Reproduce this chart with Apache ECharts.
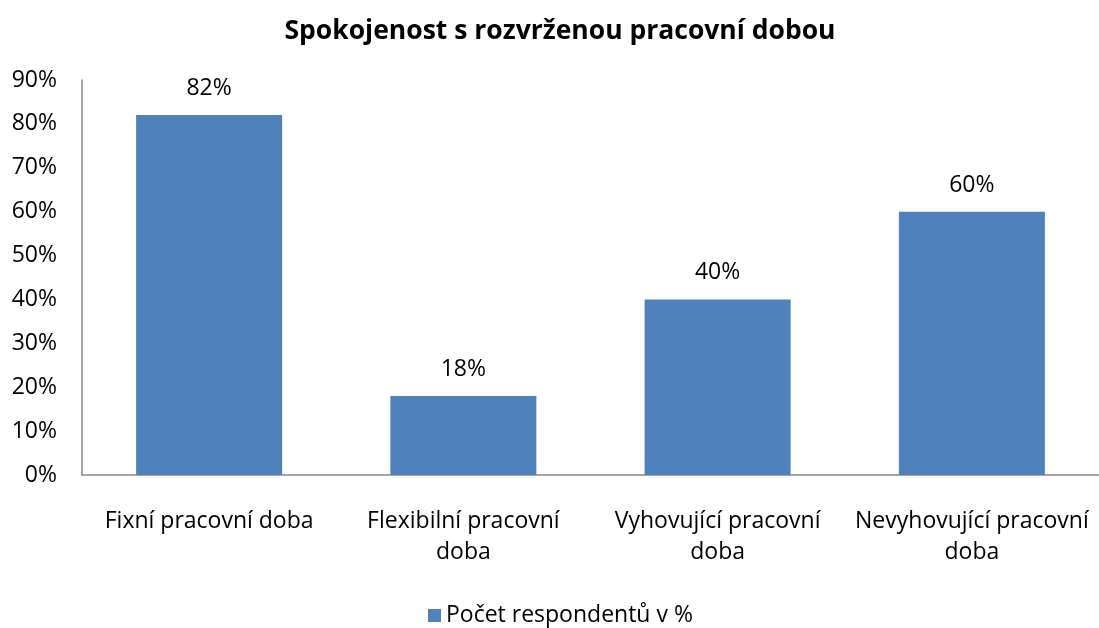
<!DOCTYPE html>
<html>
<head>
<meta charset="utf-8">
<script src="https://cdn.jsdelivr.net/npm/echarts@6/dist/echarts.min.js"></script>
<style>
  html, body { margin: 0; padding: 0; background: #fff; }
  #chart { width: 1099px; height: 628px; }
</style>
</head>
<body>
<div id="chart"></div>
<script>
// data
var categories = ['Fixní pracovní doba', 'Flexibilní pracovní\ndoba', 'Vyhovující pracovní\ndoba', 'Nevyhovující pracovní\ndoba']
var values = [82, 18, 40, 60]
var seriesName = 'Počet respondentů v %'
var titleText = 'Spokojenost s rozvrženou pracovní dobou'

var font = '"Open Sans", sans-serif'

var option = {
  animation: false,
  textStyle: { fontFamily: font },
  title: {
    text: titleText,
    left: 555,
    textAlign: 'center',
    top: 13,
    textStyle: { fontSize: 26.5, fontWeight: 'bold', color: '#000', fontFamily: font },
  },
  legend: {
    bottom: -4,
    left: 423,
    itemWidth: 13,
    itemHeight: 13,
    itemGap: 8,
    icon: 'rect',
    textStyle: { fontSize: 23, color: '#000', fontFamily: font },
    data: [seriesName],
  },
  grid: {
    left: 82,
    top: 80,
    width: 1022,
    bottom: 153,
  },
  xAxis: {
    type: 'category',
    data: categories,
    axisLine: { show: true, lineStyle: { color: '#888', width: 1.5 } },
    axisTick: { show: false },
    axisLabel: {
      color: '#000',
      fontSize: 23,
      margin: 31,
      lineHeight: 31,
      interval: 0,
      fontFamily: font,
    },
  },
  yAxis: {
    type: 'value',
    min: 0,
    max: 90,
    interval: 10,
    axisLine: { show: true, lineStyle: { color: '#888', width: 1.5 } },
    axisTick: { show: false },
    splitLine: { show: false },
    axisLabel: {
      color: '#000',
      fontSize: 23,
      margin: 25,
      formatter: '{value}%',
      fontFamily: font,
    },
  },
  series: [
    {
      name: seriesName,
      type: 'bar',
      data: values,
      barWidth: 146,
      itemStyle: { color: '#4F81BD' },
      label: {
        show: true,
        position: 'top',
        distance: 15,
        formatter: '{c}%',
        color: '#000',
        fontSize: 23,
        fontFamily: font,
      },
    },
  ],
}

var myChart = echarts.init(document.getElementById('chart'))
myChart.setOption(option)
</script>
</body>
</html>
